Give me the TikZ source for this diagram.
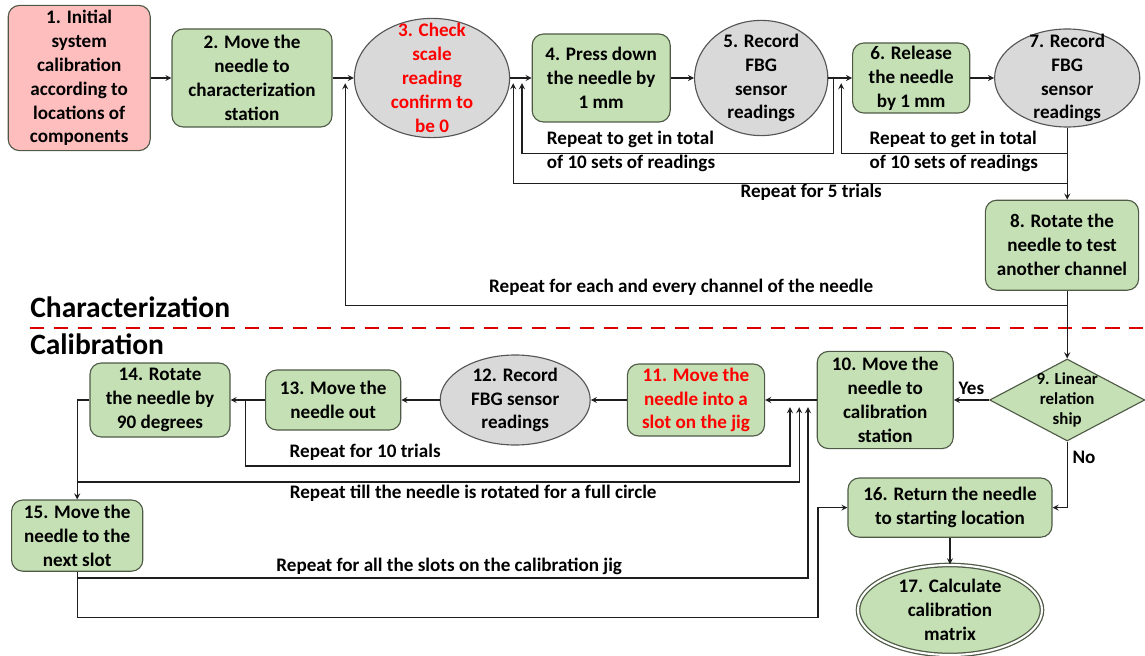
\documentclass[tikz,border=0pt]{standalone}
\usepackage{fontspec}
\setmainfont{Carlito}
\usetikzlibrary{shapes,arrows,positioning,calc,shapes.geometric}
\definecolor{stepgreen}{RGB}{197,224,180}
\definecolor{startpink}{RGB}{255,190,190}
\definecolor{ovalgray}{RGB}{217,217,217}
\definecolor{boxline}{RGB}{78,90,70}
\definecolor{ovalline}{RGB}{85,85,85}
\definecolor{flowline}{RGB}{30,30,30}
\definecolor{alertred}{RGB}{255,0,0}
\definecolor{dashred}{RGB}{220,0,0}

\begin{document}
\begin{tikzpicture}[
    font=\fontsize{13.6}{17}\selectfont\bfseries,
    stepbox/.style={draw=boxline, fill=stepgreen, rectangle, rounded corners=8pt, line width=0.8pt, align=center, inner sep=0pt},
    startbox/.style={stepbox, fill=startpink},
    readoval/.style={draw=ovalline, fill=ovalgray, ellipse, line width=0.8pt, inner sep=0pt},
    decision/.style={draw=boxline, fill=stepgreen, diamond, line width=0.8pt, inner sep=0pt},
    endoval/.style={draw=boxline, fill=stepgreen, ellipse, double, double distance=1.5pt, line width=0.9pt, inner sep=0pt},
    flow/.style={->, >=stealth, line width=0.9pt, draw=flowline},
    note/.style={align=left, inner sep=1pt},
    every label/.style={align=center, inner sep=0pt},
    parttitle/.style={anchor=west, inner sep=0pt, font=\fontsize{21}{25}\selectfont\bfseries}
]
\useasboundingbox (0,0) rectangle (28.625,-16.4);

% Characterization steps
\node[startbox, minimum width=3.55cm, minimum height=3.63cm] (init) at (1.98,-1.95) {1. Initial\\system\\calibration\\according to\\locations of\\components};
\node[stepbox, minimum width=4cm, minimum height=2.45cm] (move) at (6.3,-1.95) {2. Move the\\needle to\\characterization\\station};
\node[readoval, minimum width=3.88cm, minimum height=2.98cm, label={[text=alertred]center:{3. Check\\scale\\reading\\confirm to\\be 0}}] (check) at (10.8,-1.95) {};
\node[stepbox, minimum width=3.45cm, minimum height=2.2cm] (press) at (15.03,-1.95) {4. Press down\\the needle by\\1 mm};
\node[readoval, minimum width=3.33cm, minimum height=2.88cm, label={center:{5. Record\\FBG\\sensor\\readings}}] (rec5) at (19.03,-1.95) {};
\node[stepbox, minimum width=2.93cm, minimum height=1.75cm] (release) at (22.78,-1.95) {6. Release\\the needle\\by 1 mm};
\node[readoval, minimum width=3.63cm, minimum height=2.45cm, label={center:{7. Record\\FBG\\sensor\\readings}}] (rec7) at (26.68,-1.95) {};
\node[stepbox, minimum width=3.83cm, minimum height=2.25cm] (rotate) at (26.55,-6.13) {8. Rotate the\\needle to test\\another channel};
\node[decision, minimum width=3.88cm, minimum height=2.05cm, label={[font=\fontsize{12}{14}\selectfont\bfseries]center:{9. Linear\\relation\\ship}}] (linear) at (26.68,-10) {};

% Calibration steps
\node[stepbox, minimum width=3.4cm, minimum height=2.43cm] (calst) at (22.13,-10) {10. Move the\\needle to\\calibration\\station};
\node[stepbox, text=alertred, minimum width=3.43cm, minimum height=1.8cm] (slot) at (17.4,-10) {11. Move the\\needle into a\\slot on the jig};
\node[readoval, minimum width=3.75cm, minimum height=2.25cm, label={center:{12. Record\\FBG sensor\\readings}}] (rec12) at (12.88,-10) {};
\node[stepbox, minimum width=3.38cm, minimum height=1.5cm] (out) at (8.33,-10) {13. Move the\\needle out};
\node[stepbox, minimum width=3.5cm, minimum height=1.85cm] (rot90) at (4,-10) {14. Rotate\\the needle by\\90 degrees};
\node[stepbox, minimum width=3.28cm, minimum height=1.78cm] (next) at (1.93,-13.39) {15. Move the\\needle to the\\next slot};
\node[stepbox, minimum width=5.1cm, minimum height=1.48cm] (ret) at (23.75,-12.69) {16. Return the needle\\to starting location};
\node[endoval, minimum width=4.6cm, minimum height=2.25cm, label={center:{17. Calculate\\calibration\\matrix}}] (calcmat) at (23.75,-15.25) {};

% Section split
\node[parttitle] (chartitle) at (0.75,-7.68) {Characterization};
\node[parttitle] (caltitle) at (0.75,-8.6) {Calibration};
\draw[dashred, line width=2pt, dash pattern=on 10pt off 7pt] (0.75,-8.2) -- (28.625,-8.2);

% Main flow
\draw[flow] (init) -- (move);
\draw[flow] (move) -- (check);
\draw[flow] (check) -- (press);
\draw[flow] (press) -- (rec5);
\draw[flow] (rec5) -- (release);
\draw[flow] (release) -- (rec7);
\draw[flow] (rec7) -- (rec7 |- rotate.north);
\draw[flow] (linear |- rotate.south) -- (linear);
\draw[flow] (linear) -- node[above] (lblyes) {Yes} (calst);
\draw[flow] (linear.south) |- node[pos=0.12, right] (lblno) {No} (ret.east);
\draw[flow] (calst) -- (slot);
\draw[flow] (slot) -- (rec12);
\draw[flow] (rec12) -- (out);
\draw[flow] (out) -- (rot90);
\draw[flow] (rot90.west) -| (next.north);
\draw[flow] (ret) -- (calcmat);

% Repeat loops, characterization
\coordinate (j5) at (20.83,-1.95);
\coordinate (back5) at (13.05,-2.08);
\coordinate (j7a) at (26.68,-3.83);
\coordinate (back7) at (21.03,-2.08);
\coordinate (j7b) at (26.68,-4.58);
\coordinate (backtrial) at (12.83,-2.08);
\coordinate (jchan) at (26.68,-7.63);
\coordinate (backchan) at (8.63,-2.08);
\draw[flow] (j5) -- ++(0,-1.88) -| (back5);
\draw[flow] (j7a) -| (back7);
\draw[flow] (j7b) -| (backtrial);
\draw[flow] (jchan) -| (backchan);

\node[note, anchor=west] (lbltotal5) at (13.63,-3.79) {Repeat to get in total\\of 10 sets of readings};
\node[note, anchor=west] (lbltotal7) at (21.7,-3.79) {Repeat to get in total\\of 10 sets of readings};
\node[note] (lbltrials) at (20.28,-4.8) {Repeat for 5 trials};
\node[note] (lblchan) at (17.03,-7.18) {Repeat for each and every channel of the needle};

% Repeat loops, calibration
\coordinate (j10) at (6.13,-10);
\coordinate (back10) at (19.75,-10.18);
\coordinate (jcircle) at (1.93,-12.05);
\coordinate (backcircle) at (19.98,-10.18);
\coordinate (jslots) at (1.93,-14.45);
\coordinate (backslots) at (20.2,-10.18);
\coordinate (retin) at (20.45,-15.43);
\draw[flow] (j10) -- ++(0,-1.65) -| (back10);
\draw[flow] (jcircle) -| (backcircle);
\draw[flow] (jslots) -| (backslots);
\draw[flow] (next.south) |- (retin) |- (ret.west);

\node[note] (lbl10) at (9.13,-11.3) {Repeat for 10 trials};
\node[note] (lblcircle) at (11.83,-12.33) {Repeat till the needle is rotated for a full circle};
\node[note] (lblslots) at (11.23,-14.15) {Repeat for all the slots on the calibration jig};

\end{tikzpicture}
\end{document}
